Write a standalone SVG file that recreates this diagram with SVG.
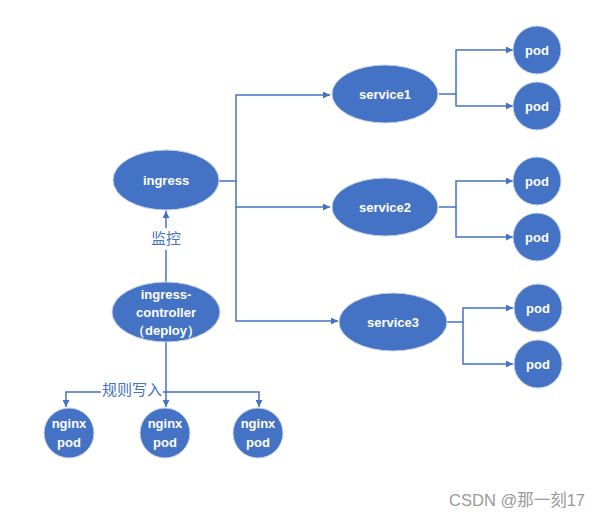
<svg xmlns="http://www.w3.org/2000/svg" width="600" height="519" viewBox="0 0 600 519">
<defs>
<marker id="arr" viewBox="0 0 10 10" refX="10" refY="5" markerWidth="7" markerHeight="7" markerUnits="userSpaceOnUse" orient="auto">
<path d="M0,0 L10,5 L0,10 z" fill="#4472C4"/>
</marker>
<style>
.node{fill:#4472C4;stroke:#c9d3e8;stroke-width:1}
.t{fill:#ffffff;font-family:"Liberation Sans","Noto Sans",sans-serif;font-size:13px;font-weight:bold;text-anchor:middle}
.c{fill:none;stroke:#4472C4;stroke-width:1.5}
.lbl{fill:#4472C4;font-family:"Liberation Sans","Noto Sans CJK SC",sans-serif;font-size:15px;text-anchor:middle}
</style>
</defs>
<rect width="600" height="519" fill="#ffffff"/>
<g id="connectors">
<path class="c" d="M219,181 H236 V95 H330" marker-end="url(#arr)"/>
<path class="c" d="M236,181 V207 H330" marker-end="url(#arr)"/>
<path class="c" d="M236,207 V321 H338" marker-end="url(#arr)"/>
<path class="c" d="M439,94 H456 V50 H513" marker-end="url(#arr)"/>
<path class="c" d="M456,94 V106 H513" marker-end="url(#arr)"/>
<path class="c" d="M439,207 H456 V181 H513" marker-end="url(#arr)"/>
<path class="c" d="M456,207 V237 H513" marker-end="url(#arr)"/>
<path class="c" d="M447,322 H463 V308 H513" marker-end="url(#arr)"/>
<path class="c" d="M463,322 V364 H513" marker-end="url(#arr)"/>
<path class="c" d="M166,283 V211" marker-end="url(#arr)"/>
<rect x="146" y="228" width="40" height="22" fill="#ffffff"/>
<text class="lbl" x="166" y="244">监控</text>
<path class="c" d="M166,342 V407" marker-end="url(#arr)"/>
<path class="c" d="M166,392 H66 V407" marker-end="url(#arr)"/>
<path class="c" d="M166,392 H259 V407" marker-end="url(#arr)"/>
<rect x="101" y="381" width="62" height="18" fill="#ffffff"/>
<text class="lbl" x="132" y="395">规则写入</text>
</g>
<g id="ingress"><ellipse class="node" cx="166" cy="180" rx="53" ry="30"/><text class="t" x="166" y="185">ingress</text></g>
<g id="ingress-controller"><ellipse class="node" cx="166" cy="312" rx="54" ry="30"/>
<text class="t" x="166" y="299">ingress-</text><text class="t" x="166" y="317">controller</text><text class="t" x="166" y="335">（deploy）</text></g>
<g id="nginx1"><circle class="node" cx="69" cy="433" r="25"/><text class="t" x="69" y="428">nginx</text><text class="t" x="69" y="447">pod</text></g>
<g id="nginx2"><circle class="node" cx="165" cy="433" r="25"/><text class="t" x="165" y="428">nginx</text><text class="t" x="165" y="447">pod</text></g>
<g id="nginx3"><circle class="node" cx="258" cy="433" r="25"/><text class="t" x="258" y="428">nginx</text><text class="t" x="258" y="447">pod</text></g>
<g id="service1"><ellipse class="node" cx="385" cy="94" rx="53" ry="29"/><text class="t" x="385" y="99">service1</text></g>
<g id="service2"><ellipse class="node" cx="385" cy="207" rx="53" ry="29"/><text class="t" x="385" y="212">service2</text></g>
<g id="service3"><ellipse class="node" cx="393" cy="322" rx="54" ry="29"/><text class="t" x="393" y="327">service3</text></g>
<g id="pod1"><circle class="node" cx="537" cy="50" r="24"/><text class="t" x="537" y="55">pod</text></g>
<g id="pod2"><circle class="node" cx="537" cy="106" r="24"/><text class="t" x="537" y="111">pod</text></g>
<g id="pod3"><circle class="node" cx="537" cy="181" r="24"/><text class="t" x="537" y="186">pod</text></g>
<g id="pod4"><circle class="node" cx="537" cy="237" r="24"/><text class="t" x="537" y="242">pod</text></g>
<g id="pod5"><circle class="node" cx="538" cy="308" r="24"/><text class="t" x="538" y="313">pod</text></g>
<g id="pod6"><circle class="node" cx="538" cy="364" r="24"/><text class="t" x="538" y="369">pod</text></g>
<text x="585" y="506" fill="#999999" font-family="Liberation Sans,'Noto Sans CJK SC',sans-serif" font-size="16.5" text-anchor="end">CSDN @那一刻17</text>
</svg>
